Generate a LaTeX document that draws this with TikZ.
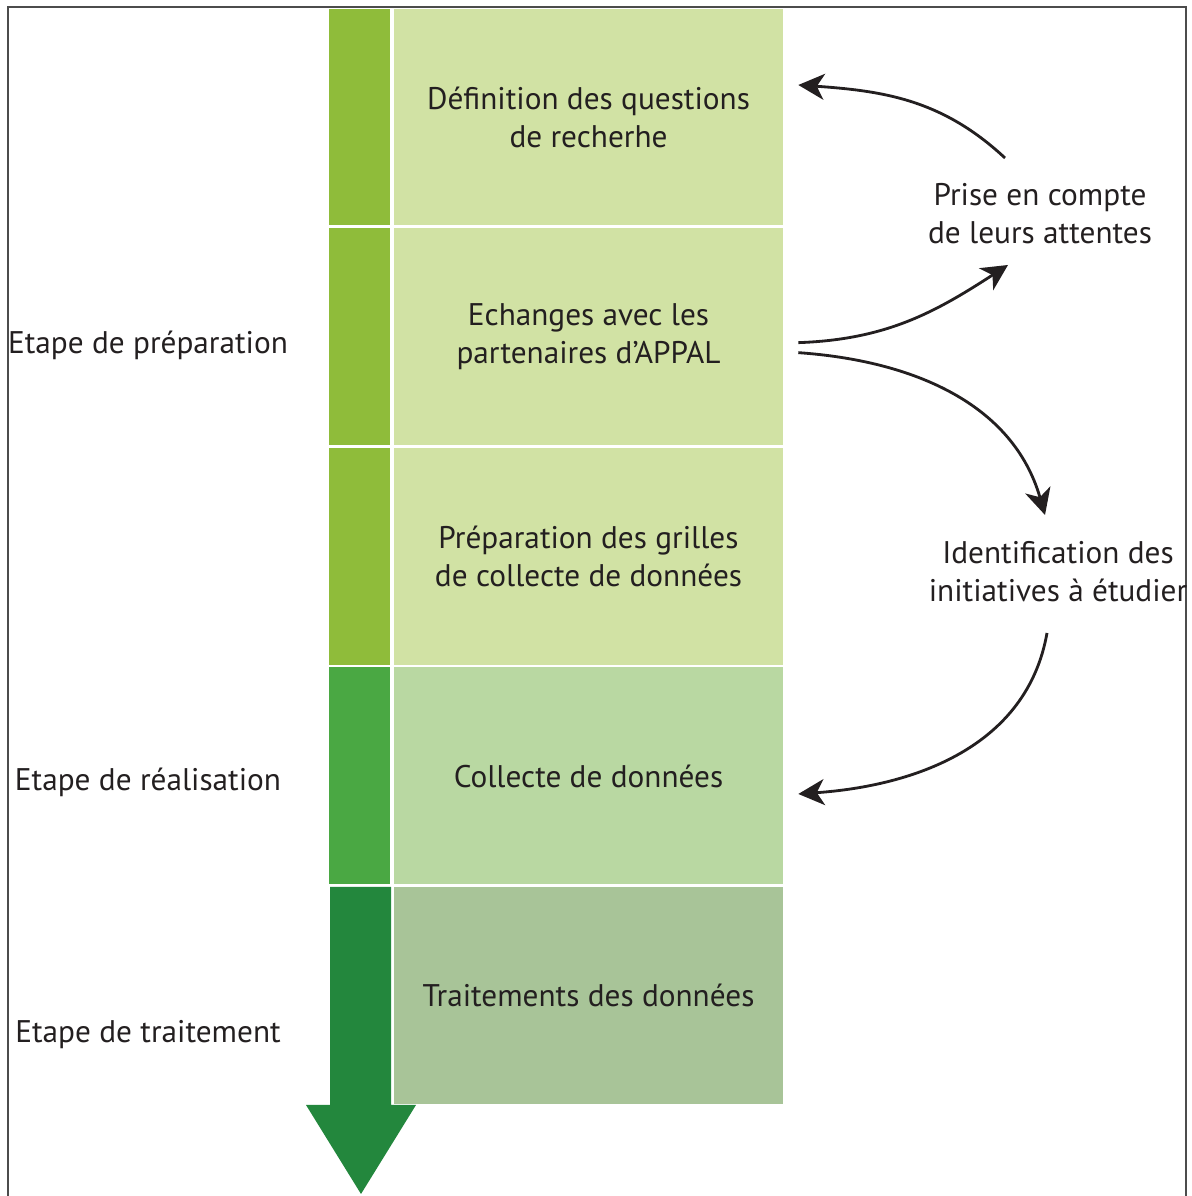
\documentclass[tikz,border=0pt]{standalone}
\usepackage{fontspec}
\setmainfont{PT Sans}
\usetikzlibrary{positioning,arrows.meta}

\definecolor{barA}{HTML}{8FBC3A}
\definecolor{boxA}{HTML}{D1E2A4}
\definecolor{barB}{HTML}{4AA843}
\definecolor{boxB}{HTML}{B9D8A2}
\definecolor{barC}{HTML}{23873D}
\definecolor{boxC}{HTML}{A8C498}
\definecolor{ink}{HTML}{231F20}

\tikzset{
  stepbox/.style={minimum width=7.78cm, minimum height=4.34cm, inner sep=0pt,
    align=center, text=ink, font=\fontsize{17.8}{21.6}\selectfont},
  bar/.style={minimum width=1.22cm, minimum height=4.34cm, inner sep=0pt},
  label/.style={align=center, text=ink, font=\fontsize{17.8}{21.6}\selectfont},
  arr/.style={-{Stealth[length=0.52cm, width=0.52cm, inset=0.15cm]}, line width=1.6pt, ink}
}

\begin{document}
\begin{tikzpicture}[x=0.02cm, y=0.02cm]
\useasboundingbox (0,0) rectangle (1192,1196);

% Frame
\draw[line width=1pt, black!70] (8,-20) -- (8,1189) -- (1186,1189) -- (1186,-20);

% Steps
\node[stepbox, fill=boxA] (box1) at (588.5,1079) {Définition des questions\\de recherhe};
\node[stepbox, fill=boxA, below=0.04cm of box1] (box2) {Echanges avec les\\partenaires d’APPAL};
\node[stepbox, fill=boxA, below=0.04cm of box2] (box3) {Préparation des grilles\\de collecte de données};
\node[stepbox, fill=boxB, below=0.04cm of box3] (box4) {Collecte de données};
\node[stepbox, fill=boxC, below=0.04cm of box4] (box5) {Traitements des données};

% Coloured bars
\node[bar, fill=barA, left=0.06cm of box1] (bar1) {};
\node[bar, fill=barA, left=0.06cm of box2] (bar2) {};
\node[bar, fill=barA, left=0.06cm of box3] (bar3) {};
\node[bar, fill=barB, left=0.06cm of box4] (bar4) {};

% Big arrow
\fill[barC] (330,309) -- (391,309) -- (391,91) -- (416,91) -- (361,2)
  -- (306,91) -- (330,91) -- cycle;

% Stage labels
\node[label] (prep) at (148,851) {Etape de préparation};
\node[label] (real) at (148,414) {Etape de réalisation};
\node[label] (trait) at (148,161) {Etape de traitement};

% Side notes
\node[label] (prise) at (1040,982) {Prise en compte\\de leurs attentes};
\node[label] (ident) at (1058,624) {Identification des\\initiatives à étudier};

% Curved arrows
\draw[arr] ([shift={(-35,56)}]prise.center) to[out=137, in=-4] ([shift={(15,32)}]box1.east);
\draw[arr] ([shift={(15,-6)}]box2.east) to[out=2, in=-147] ([shift={(-32,-51)}]prise.center);
\draw[arr] ([shift={(15,-16)}]box2.east) to[out=-4, in=106] ([shift={(-13,57)}]ident.center);
\draw[arr] ([shift={(-11,-61)}]ident.center) to[out=-100, in=4] ([shift={(15,-18)}]box4.east);

\end{tikzpicture}
\end{document}
